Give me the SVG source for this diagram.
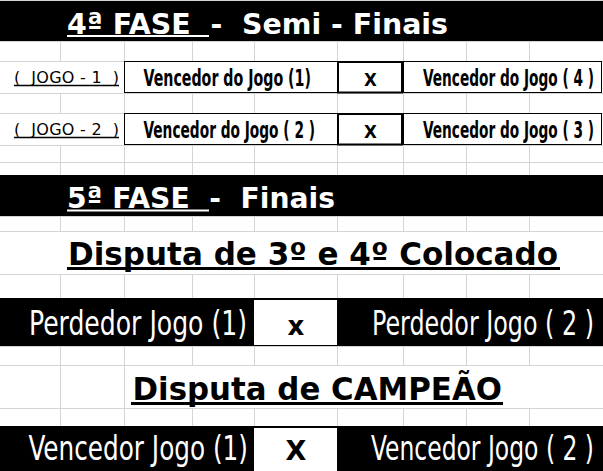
<svg xmlns="http://www.w3.org/2000/svg" width="603" height="471" viewBox="0 0 603 471">
<style>
.grid{stroke:#d4d4d4;stroke-width:1;fill:none}
.band{fill:#000}
.box{fill:#fff;stroke:#000;stroke-width:1}
.xbox{fill:#fff;stroke:#000;stroke-width:2}
.title{font-family:"DejaVu Sans","Liberation Sans",sans-serif;font-weight:bold;white-space:pre}
.cond{font-family:"Liberation Sans Narrow","DejaVu Sans Condensed","Liberation Sans",sans-serif;white-space:pre}
.lbl{font-family:"DejaVu Sans","Liberation Sans",sans-serif;font-size:16px;white-space:pre;fill:#000}
.ul{stroke-width:2;fill:none}
</style>
<rect width="603" height="471" fill="#fff"/>
<g id="grid" class="grid">
<path d="M0 0.5H603M0 41.5H603M0 61.5H603M0 93.5H603M0 113.5H603M0 145.5H603M0 162.5H603M0 175.5H603M0 216.5H603M0 231.5H603M0 274.5H603M0 298.5H603M0 346.5H603M0 365.5H603M0 408.5H603M0 426.5H603"/>
<path d="M60.5 41V61M124.5 41V61M192.5 41V61M254.5 41V61M337.5 41V61M403.5 41V61M466.5 41V61M529.5 41V61"/>
<path d="M60.5 93V113M124.5 93V113M192.5 93V113M254.5 93V113M337.5 93V113M403.5 93V113M466.5 93V113M529.5 93V113"/>
<path d="M60.5 145V175M124.5 145V175M192.5 145V175M254.5 145V175M337.5 145V175M403.5 145V175M466.5 145V175M529.5 145V175"/>
<path d="M60.5 216V231M124.5 216V231M192.5 216V231M254.5 216V231M337.5 216V231M403.5 216V231M466.5 216V231M529.5 216V231"/>
<path d="M60.5 274V298M124.5 274V298M192.5 274V298M254.5 274V298M337.5 274V298M403.5 274V298M466.5 274V298M529.5 274V298"/>
<path d="M60.5 346V426M124.5 346V426M192.5 346V365M254.5 346V365M337.5 346V365M403.5 346V365M466.5 346V365M529.5 346V365"/>
<path d="M192.5 408V426M254.5 408V426M337.5 408V426M403.5 408V426M466.5 408V426M529.5 408V426"/>
</g>
<g id="connectors"></g>
<g id="fase4">
<rect class="band" x="0" y="1" width="603" height="40"/>
<text class="title" x="67" y="33.5" font-size="29" fill="#fff" textLength="381" lengthAdjust="spacingAndGlyphs">4ª FASE  -  Semi - Finais</text>
<line class="ul" x1="67" y1="36" x2="209" y2="36" stroke="#fff"/>
</g>
<g id="jogo1">
<text class="lbl" x="14" y="82.5" textLength="105" lengthAdjust="spacing">(  JOGO - 1  )</text>
<line x1="14" y1="85.5" x2="119" y2="85.5" stroke="#000" stroke-width="1.5"/>
<rect class="box" x="124.5" y="61.5" width="213" height="31"/>
<text class="cond" x="143.5" y="86" font-size="23.5" font-weight="bold" textLength="167.5" lengthAdjust="spacingAndGlyphs">Vencedor do Jogo (1)</text>
<rect class="xbox" x="338" y="62" width="64" height="30.5"/>
<text class="cond" x="370.5" y="85.5" font-size="18.5" font-weight="bold" text-anchor="middle">X</text>
<rect class="box" x="403.5" y="61.5" width="198" height="31"/>
<text class="cond" x="423" y="86" font-size="23.5" font-weight="bold" textLength="171" lengthAdjust="spacingAndGlyphs">Vencedor do Jogo ( 4 )</text>
</g>
<g id="jogo2">
<text class="lbl" x="14" y="134.5" textLength="105" lengthAdjust="spacing">(  JOGO - 2  )</text>
<line x1="14" y1="137.5" x2="119" y2="137.5" stroke="#000" stroke-width="1.5"/>
<rect class="box" x="124.5" y="113.5" width="213" height="31"/>
<text class="cond" x="143.5" y="137.5" font-size="23.5" font-weight="bold" textLength="171.5" lengthAdjust="spacingAndGlyphs">Vencedor do Jogo ( 2 )</text>
<rect class="xbox" x="338" y="114" width="64" height="30.5"/>
<text class="cond" x="370.5" y="137.5" font-size="18.5" font-weight="bold" text-anchor="middle">X</text>
<rect class="box" x="403.5" y="113.5" width="198" height="31"/>
<text class="cond" x="423" y="137.5" font-size="23.5" font-weight="bold" textLength="171" lengthAdjust="spacingAndGlyphs">Vencedor do Jogo ( 3 )</text>
</g>
<g id="fase5">
<rect class="band" x="0" y="175" width="603" height="41"/>
<text class="title" x="67" y="207.5" font-size="29" fill="#fff" textLength="268" lengthAdjust="spacingAndGlyphs">5ª FASE  -  Finais</text>
<line class="ul" x1="67" y1="210.5" x2="209" y2="210.5" stroke="#fff"/>
</g>
<g id="disputa3">
<text class="title" x="68" y="265" font-size="31.5" fill="#000" textLength="490" lengthAdjust="spacingAndGlyphs">Disputa de 3º e 4º Colocado</text>
<line x1="67" y1="268.5" x2="560" y2="268.5" stroke="#000" stroke-width="3"/>
</g>
<g id="jogo3">
<rect class="band" x="0" y="298" width="603" height="48"/>
<rect x="254" y="300" width="83" height="45" fill="#fff"/>
<text class="cond" x="29" y="335" font-size="33" fill="#fff" textLength="218" lengthAdjust="spacingAndGlyphs">Perdedor Jogo (1)</text>
<text class="title" x="296" y="335" font-size="26" fill="#000" text-anchor="middle">x</text>
<text class="cond" x="372" y="335" font-size="33" fill="#fff" textLength="222" lengthAdjust="spacingAndGlyphs">Perdedor Jogo ( 2 )</text>
</g>
<g id="disputaCampeao">
<text class="title" x="132.5" y="400" font-size="31.5" fill="#000" textLength="369.5" lengthAdjust="spacingAndGlyphs">Disputa de CAMPEÃO</text>
<line x1="131" y1="403.5" x2="503" y2="403.5" stroke="#000" stroke-width="3"/>
</g>
<g id="final">
<rect class="band" x="0" y="426" width="603" height="45"/>
<rect x="254" y="428" width="83" height="43" fill="#fff"/>
<text class="cond" x="28.5" y="460" font-size="33" fill="#fff" textLength="219.5" lengthAdjust="spacingAndGlyphs">Vencedor Jogo (1)</text>
<text class="title" x="296" y="459.5" font-size="27" fill="#000" text-anchor="middle">X</text>
<text class="cond" x="371" y="460" font-size="33" fill="#fff" textLength="223" lengthAdjust="spacingAndGlyphs">Vencedor Jogo ( 2 )</text>
</g>
</svg>
